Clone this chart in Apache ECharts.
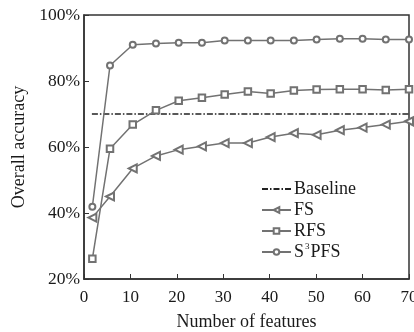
<!DOCTYPE html>
<html>
<head>
<meta charset="utf-8">
<script src="https://cdn.jsdelivr.net/npm/echarts@6/dist/echarts.min.js"></script>
<style>
  html, body { margin: 0; padding: 0; background: #fff; }
  #chart { width: 414px; height: 332px; }
</style>
</head>
<body>
<div id="chart"></div>
<script>
const FEATURES = [1.8, 5.6, 10.5, 15.5, 20.4, 25.4, 30.3, 35.3, 40.2, 45.2, 50.1, 55.1, 60, 65, 70]
const FS    = [38.6, 45.0, 53.5, 57.3, 59.2, 60.2, 61.2, 61.2, 63.0, 64.2, 63.7, 65.1, 65.9, 66.8, 67.8]
const RFS   = [26.1, 59.5, 66.8, 71.1, 74.0, 74.9, 75.9, 76.8, 76.2, 77.1, 77.4, 77.5, 77.5, 77.3, 77.5]
const S3PFS = [41.9, 84.7, 91.0, 91.4, 91.6, 91.6, 92.3, 92.3, 92.3, 92.3, 92.6, 92.8, 92.8, 92.6, 92.6]
const BASELINE_X = [1.7, 70]
const BASELINE_Y = [70, 70]
const X_TICKS = [0, 10, 20, 30, 40, 50, 60, 70]
const Y_TICKS = [20, 40, 60, 80, 100]

const FONT = '"Liberation Serif", "DejaVu Serif", serif'
const LINE = '#727272'
const INK = '#1a1a1a'

const pairs = (xs, ys) => xs.map((x, i) => [x, ys[i]])

const chart = echarts.init(document.getElementById('chart'), null, { renderer: 'canvas' })

// empty* symbols take their stroke from itemStyle.color and get a white fill
const lineSeries = (name, ys, symbol, size, rotate) => ({
  name, type: 'line', data: pairs(FEATURES, ys),
  symbol, symbolSize: size, symbolRotate: rotate || 0,
  lineStyle: { color: LINE, width: 1.5 },
  itemStyle: { color: LINE, borderWidth: 1.2 },
  z: 3,
})

chart.setOption({
  animation: false,
  textStyle: { fontFamily: FONT },
  grid: {
    left: 84, right: 5, top: 15, bottom: 53, containLabel: false, outerBoundsMode: 'none',
    show: true, borderColor: '#333', borderWidth: 1.5,
  },
  legend: {
    orient: 'vertical', left: 256, top: 174,
    itemWidth: 29, itemHeight: 7, itemGap: 1,
    textStyle: { fontFamily: FONT, fontSize: 18, lineHeight: 20, color: INK, padding: [0, 0, 0, -2],
      rich: { sup: { fontFamily: FONT, fontSize: 9, lineHeight: 20, color: INK, verticalAlign: 'top', padding: [0, 1, 0, 1] } } },
    formatter: n => n === 'S3PFS' ? 'S{sup|3}PFS' : n,
    data: [
      { name: 'Baseline', itemStyle: { opacity: 0 } },
      'FS', 'RFS', 'S3PFS',
    ],
  },
  xAxis: {
    type: 'value', min: X_TICKS[0], max: X_TICKS[X_TICKS.length - 1], interval: 10,
    name: 'Number of features', nameLocation: 'middle', nameGap: 34,
    nameTextStyle: { fontFamily: FONT, fontSize: 18, color: INK },
    axisLine: { lineStyle: { color: '#333', width: 1.5 } },
    axisTick: { inside: true, length: 5, lineStyle: { color: '#333' } },
    axisLabel: { fontFamily: FONT, fontSize: 17, color: INK, margin: 10 },
    splitLine: { show: false },
  },
  yAxis: {
    type: 'value', min: Y_TICKS[0], max: Y_TICKS[Y_TICKS.length - 1], interval: 20,
    name: 'Overall accuracy', nameLocation: 'middle', nameGap: 55,
    nameTextStyle: { fontFamily: FONT, fontSize: 18, color: INK },
    axisLine: { lineStyle: { color: '#333', width: 1.5 } },
    axisTick: { inside: true, length: 5, lineStyle: { color: '#333' } },
    axisLabel: { fontFamily: FONT, fontSize: 17.5, color: INK, margin: 4, formatter: v => v + '%' },
    splitLine: { show: false },
  },
  series: [
    {
      name: 'Baseline', type: 'line', data: pairs(BASELINE_X, BASELINE_Y), symbol: 'none',
      lineStyle: { color: '#222', width: 1.5, type: [6, 2, 1.5, 2] },
      itemStyle: { color: '#222' }, z: 2,
    },
    lineSeries('FS', FS, 'emptyTriangle', 8, 90),
    lineSeries('RFS', RFS, 'emptyRect', 6.5),
    lineSeries('S3PFS', S3PFS, 'emptyCircle', 6),
  ],
})
</script>
</body>
</html>
